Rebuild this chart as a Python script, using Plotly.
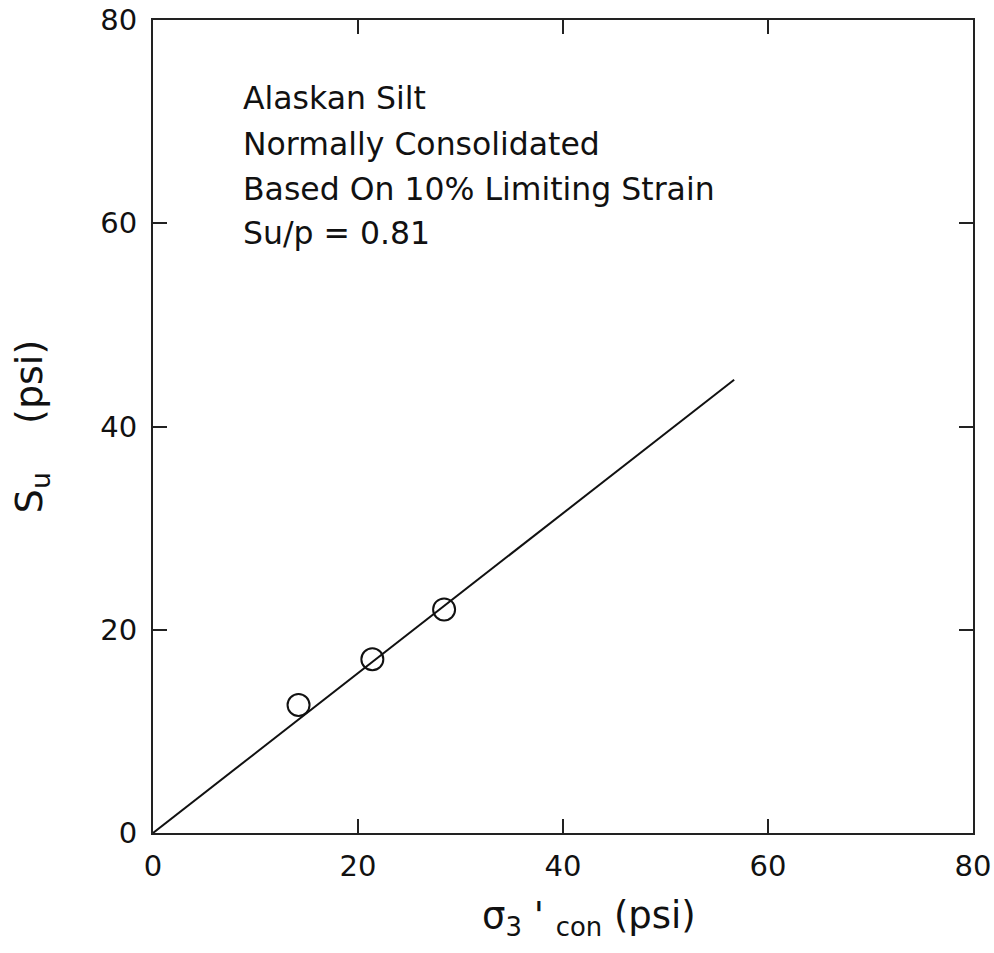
import plotly.graph_objects as go

# Data
sigma3_con = [14.2, 21.4, 28.4]      # psi
su = [12.6, 17.1, 22.0]              # psi
fit_x = [0.0, 56.7]
fit_y = [0.0, 44.6]

x_ticks = [0, 20, 40, 60, 80]
y_ticks = [0, 20, 40, 60, 80]

note_lines = [
    "Alaskan Silt",
    "Normally Consolidated",
    "Based On 10% Limiting Strain",
    "Su/p = 0.81",
]

FONT = "DejaVu Sans"
INK = "#111111"
fig = go.Figure()

fig.add_trace(go.Scatter(
    x=fit_x, y=fit_y, mode="lines",
    line=dict(color=INK, width=2), showlegend=False, hoverinfo="skip"))

fig.add_trace(go.Scatter(
    x=sigma3_con, y=su, mode="markers",
    marker=dict(symbol="circle-open", size=22, color=INK,
                line=dict(width=2, color=INK)),
    showlegend=False))

line_y_px = [98, 144, 189, 233]
for txt, py in zip(note_lines, line_y_px):
    fig.add_annotation(
        text=txt, xref="paper", yref="paper",
        x=(241 - 153) / 820, y=(833 - py) / 813,
        xanchor="left", yanchor="middle", showarrow=False,
        font=dict(family=FONT, size=31.5, color=INK))

# x-axis title placed as annotation to match the reference position
fig.add_annotation(
    text="σ<sub>3</sub> ' <sub>con</sub> (psi)", xref="paper", yref="paper",
    x=(589 - 153) / 820, y=(833 - 918) / 813,
    xanchor="center", yanchor="middle", showarrow=False,
    font=dict(family=FONT, size=37, color=INK))

axis_common = dict(
    range=[0, 80], showgrid=False, zeroline=False, automargin=False,
    showline=True, linecolor="#222222", linewidth=2, mirror="ticks",
    ticks="inside", ticklen=14, tickwidth=2, tickcolor="#222222",
    tickfont=dict(family=FONT, size=29, color=INK),
)

fig.update_xaxes(
    **axis_common, tickvals=x_ticks, ticktext=[str(v) for v in x_ticks],
    ticklabelstandoff=6)
fig.update_yaxes(
    **axis_common, tickvals=y_ticks, ticktext=[str(v) for v in y_ticks],
    title=dict(text="S<sub>u</sub>    (psi)",
               font=dict(family=FONT, size=38, color=INK), standoff=46),
    ticklabelstandoff=8)

fig.update_layout(
    width=994, height=953,
    margin=dict(l=153, r=21, t=20, b=120),
    paper_bgcolor="white", plot_bgcolor="white",
    showlegend=False,
)

fig.write_html("out.html")
